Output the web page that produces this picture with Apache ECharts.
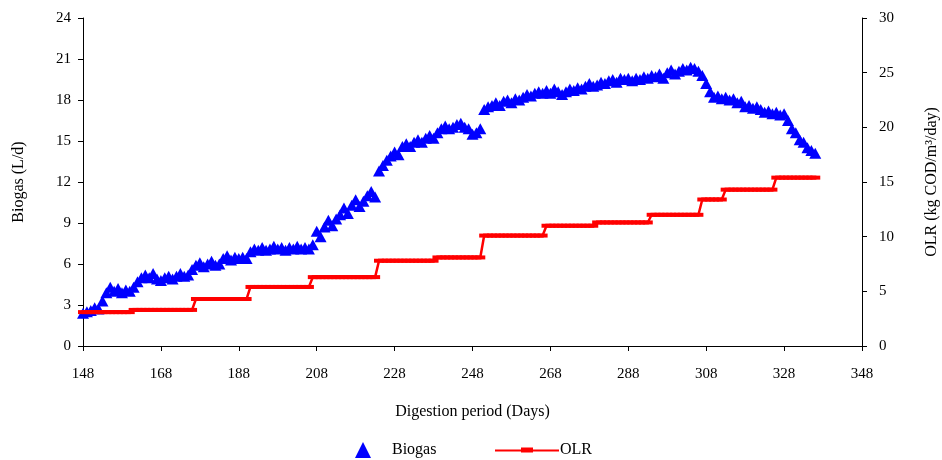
<!DOCTYPE html>
<html>
<head>
<meta charset="utf-8">
<script src="https://cdn.jsdelivr.net/npm/echarts@6/dist/echarts.min.js"></script>
<style>
  html, body { margin: 0; padding: 0; background: #fff; }
  #chart { width: 942px; height: 460px; }
</style>
</head>
<body>
<div id="chart"></div>
<script>
// first day of the data, one value per day after it
const startDay = 148;

// biogas production (L/d), days 148 - 336
const biogas = [
  2.4, 2.5, 2.6, 2.8, 2.7, 3.3, 3.9, 4.3, 4.0, 4.2,
  3.9, 4.1, 4.0, 4.3, 4.7, 5.0, 5.2, 5.0, 5.3, 4.9,
  4.8, 5.0, 5.1, 4.9, 5.1, 5.3, 5.1, 5.2, 5.6, 5.9,
  6.1, 5.8, 6.0, 6.2, 5.9, 6.0, 6.4, 6.6, 6.3, 6.5,
  6.4, 6.5, 6.4, 6.9, 7.1, 7.0, 7.2, 7.0, 7.1, 7.3,
  7.1, 7.2, 7.0, 7.2, 7.1, 7.3, 7.1, 7.2, 7.1, 7.4,
  8.4, 8.0, 8.7, 9.2, 8.8, 9.3, 9.6, 10.1, 9.7, 10.3,
  10.7, 10.2, 10.6, 11.0, 11.3, 10.9, 12.8, 13.2, 13.6, 13.9,
  14.2, 14.0, 14.6, 14.8, 14.6, 14.9, 15.1, 14.9, 15.2, 15.4,
  15.2, 15.6, 15.9, 16.1, 15.9, 16.0, 16.2, 16.3, 16.0, 15.9,
  15.5, 15.6, 15.9, 17.3, 17.5, 17.6, 17.8, 17.6, 17.9, 18.0,
  17.8, 18.1, 18.0, 18.2, 18.4, 18.3, 18.5, 18.6, 18.5, 18.7,
  18.5, 18.8, 18.6, 18.4, 18.6, 18.8, 18.7, 18.9, 18.8, 19.0,
  19.2, 19.0, 19.1, 19.3, 19.2, 19.4, 19.5, 19.3, 19.6, 19.5,
  19.6, 19.4, 19.6, 19.5, 19.7, 19.6, 19.8, 19.7, 19.9, 19.6,
  20.0, 20.2, 19.9, 20.1, 20.3, 20.2, 20.4, 20.3, 20.1, 19.8,
  19.2, 18.6, 18.2, 18.3, 18.1, 18.2, 18.0, 18.1, 17.8, 17.9,
  17.5, 17.6, 17.4, 17.5, 17.3, 17.1, 17.2, 17.0, 17.1, 16.9,
  17.0, 16.5, 15.9, 15.6, 15.1, 14.9, 14.5, 14.3, 14.1
];

// organic loading rate (kg COD/m3/day), same days
const olr = [
  3.1, 3.1, 3.1, 3.1, 3.1, 3.1, 3.1, 3.1, 3.1, 3.1,
  3.1, 3.1, 3.1, 3.3, 3.3, 3.3, 3.3, 3.3, 3.3, 3.3,
  3.3, 3.3, 3.3, 3.3, 3.3, 3.3, 3.3, 3.3, 3.3, 4.3,
  4.3, 4.3, 4.3, 4.3, 4.3, 4.3, 4.3, 4.3, 4.3, 4.3,
  4.3, 4.3, 4.3, 5.4, 5.4, 5.4, 5.4, 5.4, 5.4, 5.4,
  5.4, 5.4, 5.4, 5.4, 5.4, 5.4, 5.4, 5.4, 5.4, 6.3,
  6.3, 6.3, 6.3, 6.3, 6.3, 6.3, 6.3, 6.3, 6.3, 6.3,
  6.3, 6.3, 6.3, 6.3, 6.3, 6.3, 7.8, 7.8, 7.8, 7.8,
  7.8, 7.8, 7.8, 7.8, 7.8, 7.8, 7.8, 7.8, 7.8, 7.8,
  7.8, 8.1, 8.1, 8.1, 8.1, 8.1, 8.1, 8.1, 8.1, 8.1,
  8.1, 8.1, 8.1, 10.1, 10.1, 10.1, 10.1, 10.1, 10.1, 10.1,
  10.1, 10.1, 10.1, 10.1, 10.1, 10.1, 10.1, 10.1, 10.1, 11.0,
  11.0, 11.0, 11.0, 11.0, 11.0, 11.0, 11.0, 11.0, 11.0, 11.0,
  11.0, 11.0, 11.3, 11.3, 11.3, 11.3, 11.3, 11.3, 11.3, 11.3,
  11.3, 11.3, 11.3, 11.3, 11.3, 11.3, 12.0, 12.0, 12.0, 12.0,
  12.0, 12.0, 12.0, 12.0, 12.0, 12.0, 12.0, 12.0, 12.0, 13.4,
  13.4, 13.4, 13.4, 13.4, 13.4, 14.3, 14.3, 14.3, 14.3, 14.3,
  14.3, 14.3, 14.3, 14.3, 14.3, 14.3, 14.3, 14.3, 15.4, 15.4,
  15.4, 15.4, 15.4, 15.4, 15.4, 15.4, 15.4, 15.4, 15.4
];

// axis ranges
const xRange = [148, 348, 20];
const leftRange = [0, 24, 3];
const rightRange = [0, 30, 5];

const font = "Liberation Serif";
const axisColor = "#000";

let myChart = echarts.init(document.getElementById("chart"));

let option = {
  animation: false,
  backgroundColor: "#fff",
  grid: {
    left: 83,
    right: 80,
    top: 18,
    bottom: 114,
    outerBoundsMode: "none",
  },
  legend: [
    {
      data: ["Biogas"],
      left: 350,
      top: 437,
      itemWidth: 16,
      itemHeight: 16,
      textStyle: { fontFamily: font, fontSize: 16, color: "#000", padding: [0, 0, 0, 16] },
    },
    {
      data: [{ name: "OLR", icon: "path://M0,4 L26,4 L26,2 L38,2 L38,4 L64,4 L64,6 L38,6 L38,7 L26,7 L26,6 L0,6 Z" }],
      left: 490,
      top: 437,
      itemWidth: 64,
      itemHeight: 8,
      textStyle: { fontFamily: font, fontSize: 16, color: "#000", padding: [0, 0, 0, -4] },
    },
  ],
  xAxis: {
    type: "value",
    min: xRange[0],
    max: xRange[1],
    interval: xRange[2],
    name: "Digestion period (Days)",
    nameLocation: "middle",
    nameGap: 58,
    nameTextStyle: { fontFamily: font, fontSize: 16, color: "#000" },
    axisLine: { lineStyle: { color: axisColor, width: 1 } },
    axisTick: { length: 5, lineStyle: { color: axisColor } },
    axisLabel: { fontFamily: font, fontSize: 15, color: "#000", margin: 21 },
    splitLine: { show: false },
  },
  yAxis: [
    {
      type: "value",
      min: leftRange[0],
      max: leftRange[1],
      interval: leftRange[2],
      name: "Biogas (L/d)",
      nameLocation: "middle",
      nameGap: 56,
      nameTextStyle: { fontFamily: font, fontSize: 16, color: "#000" },
      axisLine: { show: true, lineStyle: { color: axisColor, width: 1 } },
      axisTick: { show: true, length: 5, lineStyle: { color: axisColor } },
      axisLabel: { fontFamily: font, fontSize: 15, color: "#000", margin: 12 },
      splitLine: { show: false },
    },
    {
      type: "value",
      position: "right",
      min: rightRange[0],
      max: rightRange[1],
      interval: rightRange[2],
      name: "OLR (kg COD/m³/day)",
      nameLocation: "middle",
      nameGap: 62,
      nameTextStyle: { fontFamily: font, fontSize: 16, color: "#000" },
      axisLine: { show: true, lineStyle: { color: axisColor, width: 1 } },
      axisTick: { show: true, length: 5, lineStyle: { color: axisColor } },
      axisLabel: { fontFamily: font, fontSize: 15, color: "#000", margin: 17 },
      splitLine: { show: false },
    },
  ],
  series: [
    {
      name: "Biogas",
      type: "scatter",
      yAxisIndex: 0,
      symbol: "triangle",
      symbolSize: [12, 11],
      itemStyle: { color: "#0000ff", opacity: 1 },
      data: biogas.map((v, i) => [startDay + i, v]),
      z: 2,
    },
    {
      name: "OLR",
      type: "line",
      yAxisIndex: 1,
      symbol: "rect",
      symbolSize: [10, 4],
      showSymbol: true,
      lineStyle: { color: "#ff0000", width: 2.5 },
      itemStyle: { color: "#ff0000" },
      data: olr.map((v, i) => [startDay + i, v]),
      z: 3,
    },
  ],
};

myChart.setOption(option);
</script>
</body>
</html>
